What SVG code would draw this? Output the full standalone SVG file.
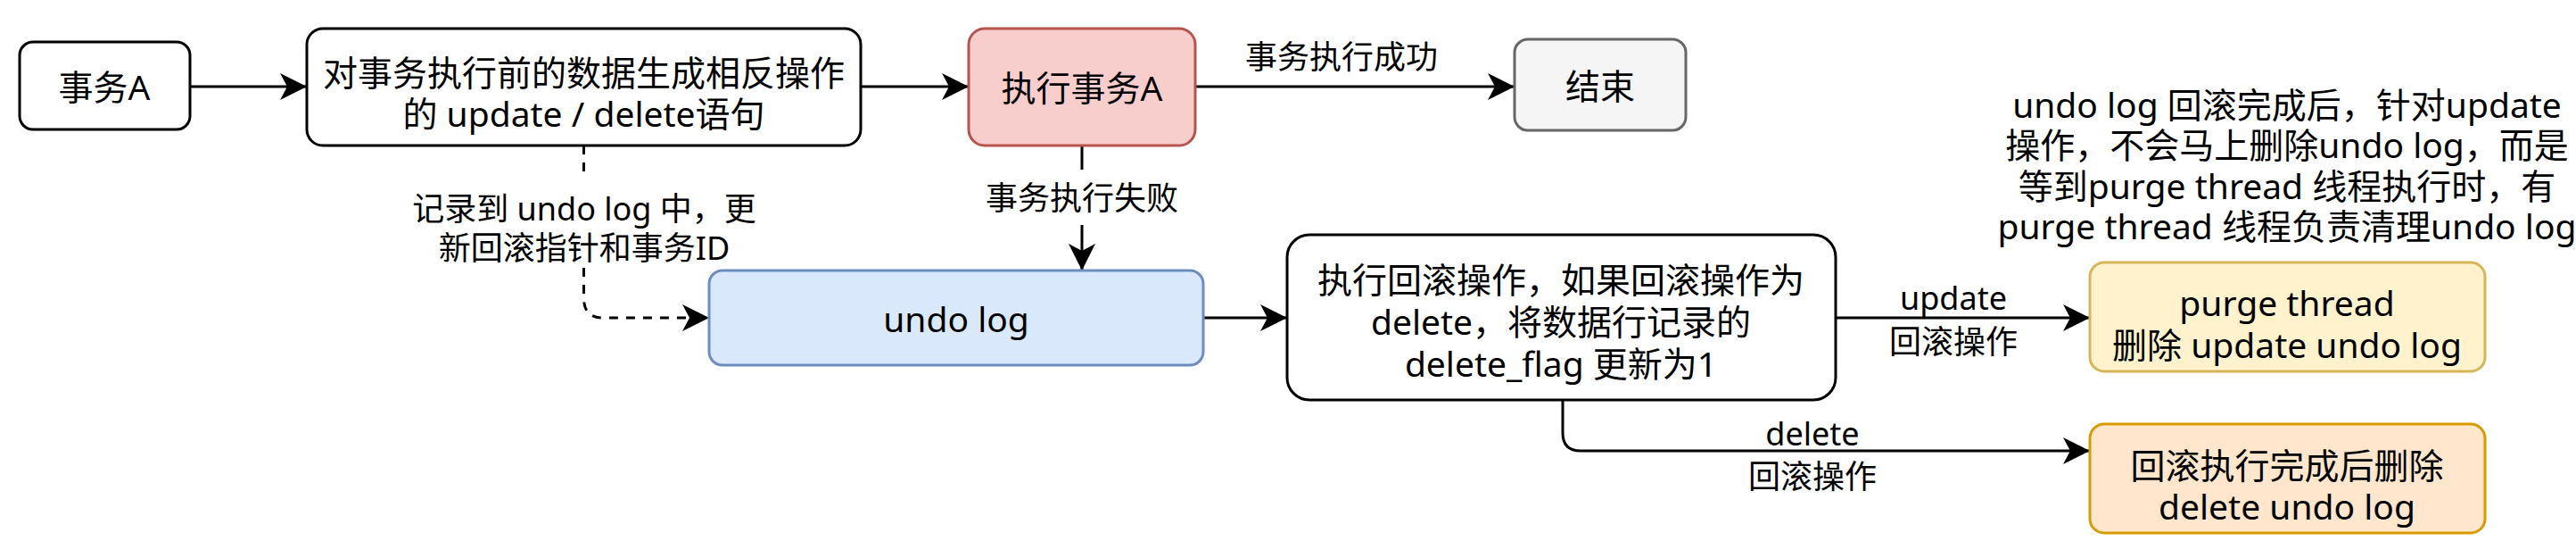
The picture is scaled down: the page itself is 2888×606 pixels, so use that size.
<svg xmlns="http://www.w3.org/2000/svg" width="2888" height="606" viewBox="0 0 2888 606">
<style>
text{font-family:"Noto Sans","Noto Sans CJK SC",sans-serif;font-size:39px;text-anchor:middle;dominant-baseline:central;fill:#000}
.lb{font-size:36px}
.box{stroke-width:3}
.edge{fill:none;stroke:#000;stroke-width:3}
.dash{stroke-dasharray:10 9}
</style>
<defs>
<marker id="arr" markerUnits="userSpaceOnUse" viewBox="-32 -16 34 32" refX="0" refY="0" markerWidth="34" markerHeight="32" orient="auto">
<path d="M0,0 L-30,-15 L-22,0 L-30,15 Z" fill="#000"/>
</marker>
</defs>
<rect width="2888" height="606" fill="#fff"/>
<g id="connectors">
<path class="edge" d="M213 97 H344" marker-end="url(#arr)"/>
<path class="edge" d="M965 97 H1086" marker-end="url(#arr)"/>
<path class="edge" d="M1340 97 H1698" marker-end="url(#arr)"/>
<text class="lb" x="1504" y="63">事务执行成功</text>
<path class="edge" d="M1213 163 V190 M1213 252 V303" marker-end="url(#arr)"/>
<text class="lb" x="1213" y="221">事务执行失败</text>
<path class="edge dash" d="M654.5 163 V196 M654.5 300 V334 Q654.5 356 676 356 H795" marker-end="url(#arr)"/>
<text class="lb" x="655" y="233">记录到 undo log 中，更</text>
<text class="lb" x="655" y="277">新回滚指针和事务ID</text>
<path class="edge" d="M1349 356 H1443" marker-end="url(#arr)"/>
<path class="edge" d="M2058 356 H2343" marker-end="url(#arr)"/>
<text class="lb" x="2190" y="333">update</text>
<text class="lb" x="2190" y="382">回滚操作</text>
<path class="edge" d="M1752 448 V485 Q1752 505 1772 505 H2343" marker-end="url(#arr)"/>
<text class="lb" x="2032" y="485">delete</text>
<text class="lb" x="2032" y="533">回滚操作</text>
</g>
<g id="node-txA">
<rect class="box" x="22" y="47" width="191" height="98" rx="15" fill="#fff" stroke="#000"/>
<text x="117" y="96">事务A</text>
</g>
<g id="node-gen">
<rect class="box" x="344" y="32" width="621" height="131" rx="18" fill="#fff" stroke="#000"/>
<text x="654.5" y="80">对事务执行前的数据生成相反操作</text>
<text x="654.5" y="126">的 update / delete语句</text>
</g>
<g id="node-exec">
<rect class="box" x="1086" y="32" width="254" height="131" rx="18" fill="#f8cecc" stroke="#b85450"/>
<text x="1213" y="97">执行事务A</text>
</g>
<g id="node-end">
<rect class="box" x="1698" y="44" width="192" height="102" rx="15" fill="#f5f5f5" stroke="#666666"/>
<text x="1794" y="95" fill="#333333">结束</text>
</g>
<g id="node-undolog">
<rect class="box" x="795" y="303" width="554" height="106" rx="15" fill="#dae8fc" stroke="#6c8ebf"/>
<text x="1072" y="356">undo log</text>
</g>
<g id="node-rollback">
<rect class="box" x="1443" y="263" width="615" height="185" rx="25" fill="#fff" stroke="#000"/>
<text x="1750" y="312">执行回滚操作，如果回滚操作为</text>
<text x="1750" y="359">delete，将数据行记录的</text>
<text x="1750" y="406">delete_flag 更新为1</text>
</g>
<g id="node-purge">
<rect class="box" x="2343" y="294" width="443" height="122" rx="16" fill="#fff2cc" stroke="#d6b656"/>
<text x="2564" y="338">purge thread</text>
<text x="2564" y="385">删除 update undo log</text>
</g>
<g id="node-delete">
<rect class="box" x="2343" y="475" width="443" height="122" rx="16" fill="#ffe6cc" stroke="#d79b00"/>
<text x="2564" y="520">回滚执行完成后删除</text>
<text x="2564" y="566">delete undo log</text>
</g>
<g id="note">
<text x="2564" y="116">undo log 回滚完成后，针对update</text>
<text x="2564" y="161">操作，不会马上删除undo log，而是</text>
<text x="2564" y="207">等到purge thread 线程执行时，有</text>
<text x="2564" y="252">purge thread 线程负责清理undo log</text>
</g>
</svg>
